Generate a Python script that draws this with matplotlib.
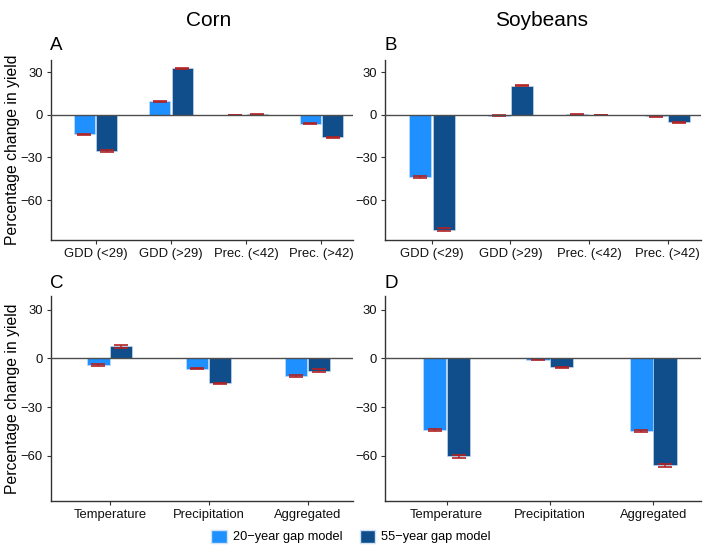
import matplotlib.pyplot as plt
import numpy as np
from matplotlib.patches import Patch

plt.rcParams['font.family'] = ['Liberation Sans', 'DejaVu Sans']

# Data
gdd_labels = ["GDD (<29)", "GDD (>29)", "Prec. (<42)", "Prec. (>42)"]
agg_labels = ["Temperature", "Precipitation", "Aggregated"]
series = ["20\u2212year gap model", "55\u2212year gap model"]

corn_a_20 = [-13.8, 9.6, -0.3, -6.2]
corn_a_55 = [-25.2, 32.6, 0.3, -15.8]
corn_a_20_err = [0.6, 0.4, 0.2, 0.4]
corn_a_55_err = [0.7, 0.4, 0.2, 0.4]

soy_b_20 = [-43.8, -0.6, 0.3, -1.0]
soy_b_55 = [-80.8, 20.5, 0.0, -5.3]
soy_b_20_err = [0.5, 0.2, 0.2, 0.4]
soy_b_55_err = [0.9, 0.4, 0.1, 0.4]

corn_c_20 = [-4.2, -6.3, -10.8]
corn_c_55 = [7.6, -15.3, -7.6]
corn_c_20_err = [0.7, 0.3, 0.8]
corn_c_55_err = [0.9, 0.3, 1.0]

soy_d_20 = [-44.0, -0.7, -44.8]
soy_d_55 = [-60.5, -5.5, -66.0]
soy_d_20_err = [0.5, 0.2, 0.6]
soy_d_55_err = [0.9, 0.3, 1.0]

light = "#1E90FF"
dark = "#104E8B"
errc = "#B22222"

fig = plt.figure(figsize=(7.09, 5.48), dpi=100)

W, H = 709, 548


def add_panel(left, top, right, bottom):
    return fig.add_axes([left / W, 1 - bottom / H, (right - left) / W, (bottom - top) / H])


def draw(ax, labels, v20, v55, e20, e55, xmax, width, off, ylabel=True):
    x = np.arange(1, len(labels) + 1)
    ax.bar(x - off, v20, width=width, color=light, edgecolor="#cfe3f7", linewidth=0.4, zorder=2)
    ax.bar(x + off, v55, width=width, color=dark, edgecolor="#cfe3f7", linewidth=0.4, zorder=2)
    ax.errorbar(x - off, v20, yerr=e20, fmt="none", ecolor=errc, elinewidth=1.2,
                capsize=5, capthick=1.4, alpha=0.85, zorder=3)
    ax.errorbar(x + off, v55, yerr=e55, fmt="none", ecolor=errc, elinewidth=1.2,
                capsize=5, capthick=1.4, alpha=0.85, zorder=3)
    ax.axhline(0, color="#4d4d4d", linewidth=1.0, zorder=4)
    ax.set_xlim(0.4, xmax)
    ax.set_ylim(-88, 38.5)
    ax.set_yticks([30, 0, -30, -60])
    ax.set_yticklabels(["30", "0", "\u221230", "\u221260"])
    ax.set_xticks(x)
    ax.set_xticklabels(labels)
    for s in ["top", "right"]:
        ax.spines[s].set_visible(False)
    for s in ["left", "bottom"]:
        ax.spines[s].set_color("#333333")
        ax.spines[s].set_linewidth(1.0)
    ax.tick_params(axis="both", labelsize=9.4, colors="#333333", length=3, width=0.8,
                   labelcolor="#111111", pad=2.5)
    if ylabel:
        ax.set_ylabel("Percentage change in yield", fontsize=11.3, color="black")
        ax.yaxis.set_label_coords(-0.101, 0.5)


ax_a = add_panel(50.5, 60, 353, 240)
ax_b = add_panel(384.7, 60, 700.7, 240)
ax_c = add_panel(50.5, 296, 353, 501)
ax_d = add_panel(384.7, 296, 700.7, 501)

draw(ax_a, gdd_labels, corn_a_20, corn_a_55, corn_a_20_err, corn_a_55_err, 4.42, 0.28, 0.15)
draw(ax_b, gdd_labels, soy_b_20, soy_b_55, soy_b_20_err, soy_b_55_err, 4.42, 0.28, 0.15, ylabel=False)
draw(ax_c, agg_labels, corn_c_20, corn_c_55, corn_c_20_err, corn_c_55_err, 3.46, 0.225, 0.115)
draw(ax_d, agg_labels, soy_d_20, soy_d_55, soy_d_20_err, soy_d_55_err, 3.46, 0.225, 0.115, ylabel=False)

fig.text(208.5 / W, 1 - 20 / H, "Corn", fontsize=15, ha="center", va="center")
fig.text(542 / W, 1 - 20 / H, "Soybeans", fontsize=15, ha="center", va="center")
for lab, (px, py) in zip("ABCD", [(50, 46), (384, 46), (50, 283), (384, 283)]):
    fig.text(px / W, 1 - py / H, lab, fontsize=13.5, ha="left", va="center")

handles = [Patch(facecolor=light, edgecolor="#cfe3f7"), Patch(facecolor=dark, edgecolor="#cfe3f7")]
fig.legend(handles, series, loc="center", bbox_to_anchor=(351 / W, 1 - 536.5 / H), ncol=2,
           frameon=False, fontsize=9.2, handlelength=1.2, handleheight=1.2,
           columnspacing=1.4, handletextpad=0.45)

fig.savefig("out.png", dpi=100)
